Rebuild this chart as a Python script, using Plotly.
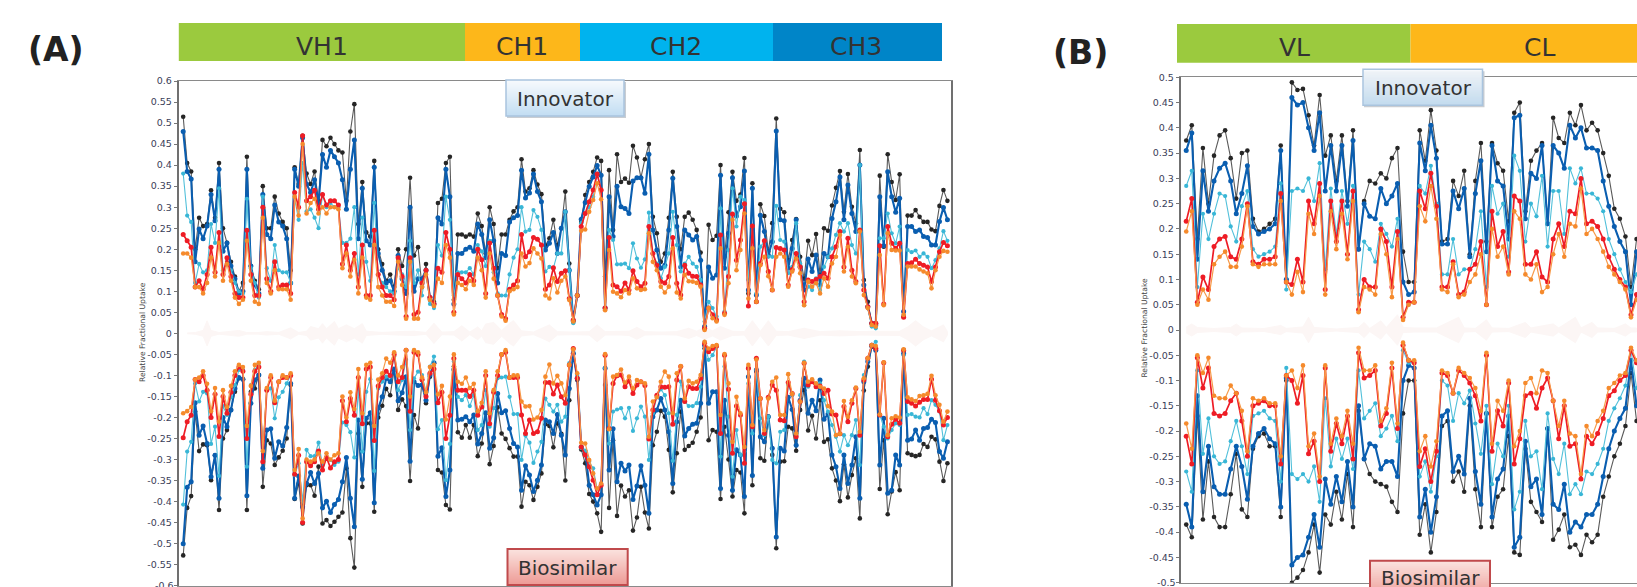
import plotly.graph_objects as go

W, H = 1637, 587

# ---------- data (percent of fractional uptake) ----------
A_top_black = [51.5,40.5,38.5,20,27.5,25.5,26,34,27.5,40.5,25,21.5,17,13.5,10,12,42,16,12.5,10.5,
35,25,25,32.5,28.5,26.5,25,15,39.5,35.5,47,38,35.5,38.5,31.5,46,44.5,46.5,45,43.5,
43,31.5,48,54.5,26,36,24,23,41,20,16.5,12.5,14,11,20,16,20,37,18.5,20.5,
11,16.5,8,7.5,31,32,40.5,42,8,23.5,23.5,23,23.5,23,28.5,25.5,19,30,26,15.5,
23.5,23.5,27,29,30,
41.4,33.7,34.5,38.8,35.4,33.1,20.9,22.6,27,21,25,33.7,16.6,2.8,9,26.5,32.9,36,38.4,41.8,
41,13.5,38.8,24.6,42.6,36,36.8,35.8,44.6,41.8,37,41.4,45,27.7,23.8,17,19,27.5,38.4,27.7,
20,27.7,28.7,27,24.6,19.2,1.2,25.8,22.2,23.2,40,18.2,28.8,38.4,31.5,33,41.7,9.5,35.7,7.5,
30.7,27.9,19.4,26.2,51.1,29.6,28.8,17.4,22.2,27.2,18.2,13,22,18.6,23.6,13.9,25,24.4,30.4,34.6,
38.6,28.9,37.9,30.1,26.2,43.6,12.7,7.5,2.4,2.4,37.5,20.6,42.6,36,31.7,37.8,4,28,28,29.3,
27.7,26.5,26.5,24.7,24.3,30.3,34.1,31.5]
A_top_blue = [48,38.5,36.7,17,24.8,22.5,25.5,33,26.8,39,19.5,21.5,16,13,9.5,10,39,16,11.5,9.5,
33,23.5,22.5,30.5,26.5,25.5,22.5,12,39,35,46.5,35.5,33.5,36.5,31,42.5,39.5,43.5,42,40.5,
36.5,29.5,39,46,22.5,34.5,22,21,39.5,19,15,12,12.5,10,18.5,13,9.5,30,10,13,
13,15,8.5,7,27.5,26,39,32.5,7,19,19,20,20.5,19.5,26,23.5,18,27,22,12,
19,18.5,26.5,27.5,28,
38.8,32.2,33.4,37.9,33.7,31.3,19.8,21.4,24,19,25,28.9,15,3,9,27.1,31.1,34.9,37.2,39.9,
37.6,6,32.5,23,35,30.1,29.7,28.5,36.2,37,37,33.3,42.6,24.6,19.8,15.5,16.2,24.6,36.9,25.4,
15.8,24.6,23.4,22.2,23,17.4,1.6,15.8,13.1,13.9,37.6,15.5,23.8,37,27.9,30.1,38.6,10.3,34.5,9.1,
28.1,24.2,18.6,21.8,48.1,27,26.8,15.5,20.2,27,15.8,10.3,17.7,14.7,18.6,11.5,19,18.2,27.3,31.3,
37.2,27,35.3,28.5,24.2,40,11.5,6.3,2.4,2,32.5,20.8,38.4,32.5,28.8,32.1,5.2,25.4,25.4,24.2,
24.6,23,22.8,21,21,26.6,29.9,27]
A_top_cyan = [38,28,26.5,12,16.5,14.5,15,26,21.5,34.5,15,17,15,12,10,9.5,32,15.5,12,8.5,
32.5,15.5,12.5,21,15,14.5,14.5,12,32,27,40.5,29,29.5,27.5,25,33,30,31,30,30,
21.5,21.5,22.5,30,14,27.5,17,12.5,31,14,12,11,10,9.5,15.5,14,11,22,12,15,
9,15,7,6,21,18.5,32.5,27,9,14.5,14.5,14.5,15.5,14,21,19.5,16,22,14.5,9.5,
9,9,14,18,20,
30,24.2,24.6,29.3,27.7,24.6,14.7,15.8,15.5,19,19,28.9,15,2.4,9,26.2,28.5,30,32.5,38,
34,6,24.6,22.2,16.4,16.4,16.6,15.5,21.4,17.8,15.6,17.6,28.7,19,16.6,13.1,15.8,19,28.9,21,
14.7,16.6,18.2,16.6,15.8,12.7,2.8,7.5,6,4,29.7,5.2,19.8,34.5,25.4,32.5,31.7,12.7,25.4,9.5,
20.6,21.8,18.2,18.2,30.3,22.2,21.8,14.3,15.8,26.2,16.6,6.7,11.1,10.3,13.1,10.3,15.8,18.2,20.2,23.4,
26.2,24.2,26.2,21,19,40,10.3,6,1.6,1.2,22.6,22.6,28.5,23.8,21.4,25.4,4.4,19.8,19.3,19.7,
18.2,19,18.2,15.5,17.4,20.2,24.3,22]
A_top_red = [23.5,22,20.5,11,12.5,10.5,14,20.5,14.5,24,14,18,13.5,9.5,8.5,8.5,24.5,14,9,9,
30,13,10,17,11,11.5,11.5,9.5,33.5,30,47,31.5,32.5,34,29.5,33,30.5,31.5,31.5,30.5,
16.5,21,15,19,11,21,9,9,24.5,14,11,9,9,8,18,13.5,4,18,4.5,5,
12,15,8.5,7,15.5,14.5,24,20,5,14,13,12,14,12.5,20,17.5,9.5,21.5,15.5,9,
4.5,3.5,10.5,11.5,12.5,
23.5,18.2,19.4,22.8,22.4,21,10.5,11.5,15.6,12.3,14.3,14.9,8.3,3.2,9,25.4,28.5,31.3,34.1,37.9,
34.1,6,22.8,11.5,11.1,10,12,10.3,14.9,12.3,11.1,11.9,25.4,19,16.2,12.3,12,13.5,22.8,11.9,
9.1,16.2,14.3,13.6,13.5,11.5,1.2,6,4.4,3.2,23.4,4.8,13.5,28.4,17.4,22.2,30.8,6.5,25.5,7.5,
16.6,22,14.7,10.3,20.4,20.2,19.8,11.5,15.2,19,15.8,7.5,12.7,12.3,12.8,13.5,14.3,13.1,18.2,20.6,
24.2,15.8,22.6,15,12.3,24.6,10.3,6.3,2.4,2.4,20.8,7,25.4,21.4,20.2,21.4,3.8,16.6,16.8,17.6,
16.6,16.2,15.8,12.3,15.8,19.4,21.6,20.8]
A_top_orange = [19,19,18,11,11,9.5,12,18,13.5,21.5,12.5,16.5,12.5,8.5,7,8,22,12.5,7.5,7,
27.5,12,9.5,15,10.5,10.5,10.5,8,32.5,28,45,28.5,31,32,28.5,30,28.5,30,30,29.5,
15.5,19,13.5,17.5,9.5,18,8.5,8,21,11,9,7.5,7.5,6.5,17,11.5,3.5,17,3.5,3.5,
11,14,8,6.5,13,12,21,18,4.5,12,11.5,10.5,12.5,11.5,18,15,8.5,19,13,9,
4,3,10,10.5,11,
19,15.9,16.7,20.2,19,17.8,9,8.3,13.1,9.7,12.5,13.5,7.9,2.8,9,24.4,24.7,28.9,31.7,35.7,
31.9,5.5,19.8,9.9,9.5,8.6,10.3,9.5,13.1,10.7,10.3,10.5,23.8,17,15,11.1,9.7,11.1,20.2,9.7,
8.3,13.9,12.4,12.3,12,11.1,0.8,6,3.6,2.8,20.2,4.4,11.9,27,15,19.8,28.5,8.3,20.2,7.5,
16.2,18.2,13.6,10.3,18.2,19,18.2,11.1,14.7,17.8,14.3,6.7,12.3,11.1,11.9,9.5,13.1,11.1,16.6,18.2,
23.4,14.7,20.6,13.5,11.9,24.2,9.1,6,2,1.6,18.6,6.7,23.8,19.8,19.7,19.7,4.4,15.9,15.9,15.9,
15.2,14.7,14.3,10.7,15,18.2,19.6,19.4]

A_bot_black = [52.8,41.5,38.7,18.6,28,26.4,26.6,34.9,29,42,25,23,18.2,13.9,10.7,10.9,42,13.9,13.1,9.9,
36.5,25.4,26.2,31.3,29.5,27.9,25,12.3,39.4,35.7,45.2,36.1,36.1,38.6,31.7,45.2,44.4,45.8,44.8,43.6,
42.6,32.1,48.7,55.7,23.8,36.5,21.4,21.4,42.4,20,17.2,13.2,14.7,8.7,18.2,15.7,17.3,35.1,19.4,22.6,
11.1,16.6,10.3,7.1,32.5,33.1,40.8,41.9,7.9,23.5,24.8,21.8,24.8,21.8,29.2,26.2,19,31.1,26.8,17.6,
23.8,25.1,27.3,29.3,29.3,
41.2,35.3,36.1,39.6,36.5,33.3,21.6,22,27.1,21.4,23.9,35,15.9,4.8,11.1,27.6,30.9,38.2,40,42.8,
47.2,12.3,41.5,25.4,43.4,36.2,38.8,37.3,46.9,43.8,36.5,42.6,46.4,26.6,23.4,18.4,19.8,27.7,37.8,28.5,
18.6,27.7,26.8,26,23.4,20,3.6,25.4,23,23.4,39.4,22.2,30,38.8,32.5,33.1,42.8,8.3,36.1,9.1,
29.7,30.3,19.8,28.9,51.1,30.5,30.4,22.2,22.6,27.9,18.2,13.5,23.1,19.6,25,15.9,25.8,25.2,32.1,35,
39.9,31.1,39,33.7,29.7,44,13.6,7.9,3.2,3.6,37,25.4,43,37.6,33,37.3,4,28.5,28.9,29.2,
28.9,26.3,27,24.6,25.2,30.5,35.1,30.9]
A_bot_blue = [50,36.6,35.3,16.5,24.2,22,26.2,34.1,29,39.2,20,22.2,18.2,13.1,10.5,10.9,38.6,16.6,11.1,9.9,
32.1,23,22.7,29.7,25.8,26.8,22.4,11.9,39.2,33.9,41.2,35.7,33.1,35.7,33.3,41.5,39.9,42.6,40.7,39.5,
35.3,29.5,39.2,46,20.6,34.7,20.2,18.9,40.3,17.8,15.1,10.7,11.5,8.5,16,14.1,10.3,30.4,11.5,12.4,
12.3,15.9,9.9,7,29.2,27.2,38.8,32.5,8.6,20.6,20.4,19.8,21,19.4,26.3,23.8,18.9,27.3,24.8,14.3,
18.9,18.4,22.6,26.2,27,
37.3,31.5,33.7,37.6,34.9,31.3,20.6,21,23.8,19.3,24.2,28.9,13.1,4.8,10.7,27,28.1,36.1,38.4,40.8,
38.4,8.3,32.5,22.7,35.3,30.9,32.7,31.3,39.5,36.3,31.5,36.1,42.8,19.8,18.2,15.5,18.2,23.4,35.7,21,
15.9,24.4,22.6,21.6,21.4,16.6,2.8,16.6,13.9,13.9,36.9,15.9,24.2,37.3,27.7,28.9,38.8,10.3,33.8,8.7,
24.6,25.8,19.8,27.3,48.4,27.3,28,15.2,18.1,26.6,15.9,10.7,19,15.9,18.4,11.1,20.4,19.2,28.9,31.7,
36.9,28.9,35.7,31.3,24.6,39.2,11.5,6.7,2.8,4,31.3,20.2,38,37.3,28.9,31.3,4.8,25.4,25.1,23,
25.4,22.6,22.4,20.4,21.2,28.1,29.7,25.8]
A_bot_cyan = [40.7,28.1,25.8,11.9,16.2,13.9,14.3,26.3,22.2,33.9,17.3,19.4,15.2,12.3,8.7,8.7,31.7,12.3,8.7,7.1,
28.1,13.5,13.1,20.2,15.2,13.9,11.9,9.9,33.7,30.9,40,27.7,29.2,29.2,26,31.3,29.3,30.1,31.3,30.5,
21.2,21.8,23.5,29.5,13.1,28.1,13.9,10.9,32.7,13.1,11.5,10.3,10.3,5.5,13.5,11.1,6.3,23,10.7,9.1,
9.9,13.9,7.9,5.5,22.8,20.6,34.9,26.3,6.7,15.1,15.9,14.7,17.3,14.7,23,21.8,13.5,22.2,17.8,10.7,
10.5,10.3,15.1,19.2,19.2,
30.1,24.3,26,30.8,28.1,25.8,15.5,17,18.6,17,21,19.8,7.1,4.4,9.9,27.3,27.9,30.5,32.1,36.9,
35.7,8.3,26.2,18.6,18.1,17.8,20.2,17.7,23.2,20.2,17.4,19.8,30.1,19,15.1,13.3,14.7,19,30.3,19.4,
11.5,16.2,17.3,17.3,16.6,12.7,2,6.3,5.2,3.2,29.3,7.9,19.8,34.1,23,28.9,28.1,11.9,23.8,8.7,
20.2,24.2,19.8,30.1,30.9,23.4,23,12.3,14.7,23.8,14.7,6.7,12.7,11.1,12.7,11.9,15.9,18.6,21.8,24.6,
28.1,24.2,26.6,24.2,20.6,31.3,9.9,6.3,2.8,2,19.4,22.2,25,23,21.4,21.8,5.2,19.4,19.2,19.8,
20,17.8,19.2,15.9,17,18.6,25.4,21.8]
A_bot_red = [24.8,21,19.5,11,11.5,10,13.5,20,14.5,24.5,15,19,14,10,8,9,25,14.5,9,8,
30.5,13.5,10.5,16.5,11.5,10.5,10.5,10,33.5,29,45,30.5,31.5,30.5,28,32.5,29.5,32,30.5,30,
16,21,15.5,19.5,10.5,21.5,8.5,8,25.5,12.5,10.5,9,10,5,11.5,10.5,4,18.5,4.5,5,
11,15,9.5,8.5,16.5,14,25,19.5,6,13.5,13.5,13.5,15,13.5,19.5,17.5,10,21.5,14,10,
5,4.5,10.5,10.5,10.5,
19.4,23.8,20.6,23.8,23.4,20.2,11.7,11.7,14.4,12.3,15.1,16.6,7.5,3.6,10.7,27,28.9,31.7,34.9,38.4,
36.1,5.2,22.6,11.9,10.1,9.9,12.7,11.3,14.3,12.3,11.5,12.4,25.1,18.2,14.7,12.7,12.8,12.7,21.6,11.1,
7.9,16.2,12.7,13.1,13.1,10.7,2.4,4.4,3.6,3,23.8,5.2,13.3,28.5,17.3,19.4,30.9,8.3,22.2,5.9,
15.5,23.8,15.2,12.3,13.5,20.6,20.8,11.7,14.3,24.6,16.2,7.1,12.3,11.5,12.7,12.5,14.3,13.5,19.2,19.4,
23.9,17.4,21,16.6,13.1,24.2,11.1,5.9,2.8,3.6,19.4,7,24.6,21.6,20.4,21.4,4,16.2,16.6,17.3,
16.4,15.7,15.7,10.9,15.9,18.4,21.8,20]
A_bot_orange = [19,18.5,17.5,11,10.5,9,12,18.5,13,21,13.5,17.5,12.5,9,7.5,8,22,12.5,7.5,7,
28,13,10,16,11.5,10,10.5,9.5,32.5,27.5,44,30,30.5,30,28.5,30.5,28.5,30,29,28.5,
15,20,14,18,8.5,19,7.5,7,22,11,9.5,6,7,4.5,10,8,4,15,4,4.5,
10.5,14,8,7.5,14.5,12.5,20.5,15,5,11.5,12,10.5,13,12,18.5,16.5,9,19,13.5,9,
5,4,10.5,10,10,
16.2,17.4,17.3,20.5,20,18.2,10.3,7.4,11.9,10.1,11.9,14.7,7.5,3.8,9.5,26,26.2,30.1,33.3,36.9,
35.7,4.9,22.8,10.3,9.9,8.6,11.7,10.3,13.1,11.1,11.5,11.9,24.6,16.2,15.2,11.5,9.1,10.3,19,9.5,
7.8,15.5,11.3,11.9,11.5,9.9,2,3.6,3,2.8,19.4,4.9,11.9,25.8,15.1,19,27,7.5,21.8,6.2,
15.5,23,15.5,11.5,10.5,19.4,19.4,9.7,14.4,23.8,16.2,7,11.5,10.9,11.9,12.7,13.1,17.3,18.6,24.2,
23.9,16.1,19.8,15.9,12.9,23.4,10.7,5.9,2.8,3,19.3,6.9,24.2,20.2,19.7,20,3.8,15.2,15.7,16.1,
14.9,14.7,14.4,10.1,14.7,17,21,18.6]

B_top_black = [37.5,40.5,18,36,25,34.5,38.5,39.5,34,26,35,35.5,22,19.5,20,21,22,36.5,10,49,
47.5,47.7,42.5,36.5,46.5,34.5,38.5,29.5,38.5,25.5,39.5,16,25.5,29.5,29,31,30,34,36,15.5,
9.5,9.5,39.5,33.5,43.5,35.5,17.5,18,29.5,26.5,31.5,15,29.5,37,17.5,37,33,31.5,21.5,43,
45,23.5,33.5,35.5,37,21,42,38,37,43,40.5,44.5,39.5,41,39.5,35,30.5,24,22,18.5,8.5,18]
B_top_blue = [35.5,39,14,31.5,23.5,29.5,32,33,29.5,23,27,32.5,20.5,19,19.5,20,21,35.5,10,46,
44.5,45,40,35.5,43,27.5,36.5,27.5,36.5,24.5,37.5,16,25,22.5,22,28,25,26.5,29,9.5,
7,7.5,37,31.5,40.5,34,17,17,27.5,24,28,14.5,27,33.5,15.5,36.5,29.5,28.5,18,42,
42.5,22,31,30,36.5,21,36.5,35,32,40.5,38,40,36,36,35.5,29.5,24.5,20.5,17.5,15.5,5,15.5]
B_top_cyan = [28.5,31.5,8.5,23,18,23,27,26.5,20.5,17.5,24.5,27.5,16,14.5,15,15.5,16.5,29,8,27.5,
28,27.5,30,25.5,33,12,28,19,27.5,21,28.5,7,17.5,16,13.5,21,19,16.5,22,2.5,
5,5.5,28.5,27,32.5,25,11,11,18,11,12,12,16,23.5,8.5,28.5,23,25,14.5,34.5,
31.5,17.5,25,22.5,30.5,16.5,27.5,27.5,19,32,29,32,27,27,26,23.5,18,15,12,9.5,7.5,11]
B_top_red = [21.5,26,5.5,10.5,8,16.5,18,18.5,14.5,14,18,25,13.5,13,14,14,14.5,27,9.5,9,
14,9.5,25.5,21,29,8,25.5,17.5,25.5,15,27.5,4,10,8.5,8.5,20,17.5,8.5,19.5,2.5,
5.5,5.5,27.5,24,31,24.5,8.5,8.5,13.5,7,7.5,12,13,17.5,5,23.5,16.5,19.5,11.5,26.5,
25.5,13,13,15.5,10.5,9.5,18,21,16.5,23.5,23,30,21,21.5,20.5,18,14.5,12,10,8.5,3,7]
B_top_orange = [19.5,23.5,5,8,6,13,14.5,15.5,12.5,12.5,16.5,24.5,13,12.5,13,13,13,25.5,9.5,7,
11.5,7.5,23,19,26.5,7,23.5,16,23,14,25.5,3.5,8.5,8,7,19,15,6.5,18,2,
5,5.5,24.5,21.5,28.5,22,8,7.5,13,6.5,7,9.5,11,15,5,20,14.5,16.5,11,23.5,
22,11,10,13,7.5,8.5,15,19,14.5,21,20.5,28,19,20,18,15.5,12.5,11,9.5,8,2.5,6]

B_bot_black = [38.5,41,17,37.5,26,37,39,39,32.5,24.5,35.5,37,23.5,21,20.5,23,23,37,10,50,
49,47.5,44,38.5,48,36.5,38.5,32,37.5,28.5,39,16,25.5,28.5,30,30.5,31,34,36,16.5,
10,10,40.5,34.5,44,36,19,18,30,28,32,15,31.5,39,16.5,39,33,31.5,21,44,
44.5,23.5,34,36,38,19.5,41.5,39.5,36.5,43,42.5,44.5,40.5,42,40.5,33,29,25,22.5,19,8.5,18]
B_bot_blue = [34.5,39,13,32,23,31,32.5,32.5,27.5,23,27,33.5,23,20.5,19.5,21.5,22.5,35,9.5,46.5,
45,44.5,41,36.5,43,29.5,34.5,29,34,26,35,15,25.5,22.5,23,27.5,26,26,29,10,
7,7.5,37,31.5,40,33,17,16,28,25,28.5,13.5,28,34.5,16.5,37,29.5,27.5,17,43,
41,22,31,29.5,36.5,19.5,34.5,35.5,30.5,40,38,39,36.5,36.5,34.5,29,23.5,20,17.5,15.5,6,15]
B_bot_cyan = [28,32,8,24.5,17.5,25,26.5,26,22,18,23,28.5,17,16.5,16,17.5,18,30,7.5,28.5,
29.5,28.5,30,27,34,13.5,27,21.5,25.5,21.5,27.5,8,17.5,16,14.5,21,19.5,17,22,4,
6.5,6.5,29,26,32,25,10,11,18,12.5,14.5,12,18.5,24.5,15,30.5,22.5,25,15,35.5,
32,18,25,24,31.5,16.5,25.5,28.5,22.5,32.5,30.5,32.5,28,28.5,26.5,23.5,18,15.5,13.5,11,4,11.5]
B_bot_red = [21,26.5,5.5,11.5,7.5,16.5,17,16.5,14,12.5,18,25,15,14.5,14,15,15,26.5,9,10,
14.5,9,24.5,22,30,7.5,24,18.5,22.5,17,25.5,4.5,9.5,9,8,19,16.5,7.5,19.5,3,
6,6.5,27,23.5,30,24,8.5,9,12.5,8,9,10.5,13,18,5,24,16,19,10.5,26.5,
21.5,13,12.5,15.5,11.5,9.5,14,21.5,15,23,22.5,29.5,21,22.5,20.5,17.5,13,12,10,9,4,6.5]
B_bot_orange = [18.5,23.5,5,8.5,5.5,13,13.5,13.5,11,12.5,16,24,13.5,14,13.5,14.5,14.5,25,9,8,
11.5,7,23,20.5,29,7,22.5,17.5,21,16,22.5,3.5,8,8,7,18,15.5,6.5,18.5,2.5,
6,6,24,21,27,22,8,8.5,12.5,7.5,8.5,9.5,11.5,16,4.5,22.5,14,16,10,23,
20,10.5,9.5,12.5,8,8.5,14,19,14,20.5,21,28.5,19,21,18,16,11.5,10.5,9,8.5,3.5,6]

A_band_x = [1,3,5,6,7,9,12,14,16,19,21,24,27,29,31,32,34,35,36,37,38,39,41,43,45,46,50,54,58,61,63,65,68,70,72,74,75,76,78,80,82,83,85,88,91,92,94,98,102,104,106,110,112,114,116,120,124,127,129,131,133,135,138,141,143,145,147,149,152,156,160,165,170,175,180,182,184,186,188,191,192]
A_band_h = [.1,.2,.7,3,.7,.2,.5,.7,.2,.2,.4,.2,1.3,.2,.5,1.6,1.1,2.3,1.1,2,2.8,1.1,2,1.1,2.3,.5,.2,.4,.5,.2,2.4,.3,.4,1.8,.3,1.5,.6,2.2,2.6,.7,2.4,3,.6,.3,1.5,2,.4,.3,.4,2,.4,.4,.5,1.4,.4,.3,.4,1.2,.5,1.4,.6,1.6,.5,.4,3,.5,3,.5,.4,1.2,.4,.6,.4,.5,.5,1.5,3,1.5,.6,2,.4]
B_band_x = [0,1,2,5,8,9,10,14,17,18,21,22,23,27,31,32,33,35,36,38,39,41,45,49,50,52,54,55,58,61,62,66,67,70,71,73,74,77,79,80,81]
B_band_h = [.6,1.2,.5,.3,.5,1.2,.4,.3,.9,.3,.6,2.5,.5,.2,.5,1.5,.3,1.8,.5,3,.5,.4,.4,2.5,.4,.3,2,.4,.3,1.5,.4,1.2,.4,2.5,.4,1.5,.4,.3,1.2,.4,.4]

A_ticks = [0.6,0.55,0.5,0.45,0.4,0.35,0.3,0.25,0.2,0.15,0.1,0.05,0,-0.05,-0.1,-0.15,-0.2,-0.25,-0.3,-0.35,-0.4,-0.45,-0.5,-0.55,-0.6]
A_tick_text = ["0.6","0.55","0.5","0.45","0.4","0.35","0.3","0.25","0.2","0.15","0.1","0.05","0","-0.05","-0.1","-0.15","-0.2","-0.25","-0.3","-0.35","-0.4","-0.45","-0.5","-0.55",""]
B_ticks = A_ticks[2:-2]
B_tick_text = A_tick_text[2:-3] + [""]
A_last_tick, B_last_tick = "-0.6", "-0.5"

A_regions = ["VH1", "CH1", "CH2", "CH3"]
B_regions = ["VL", "CL"]
INNOVATOR, BIOSIMILAR = "Innovator", "Biosimilar"
Y_TITLE = "Relative Fractional Uptake"

lengths = {n: len(v) for n, v in dict(at0=A_top_black, at1=A_top_blue, at2=A_top_cyan, at3=A_top_red, at4=A_top_orange,
    ab0=A_bot_black, ab1=A_bot_blue, ab2=A_bot_cyan, ab3=A_bot_red, ab4=A_bot_orange,
    bt0=B_top_black, bt1=B_top_blue, bt2=B_top_cyan, bt3=B_top_red, bt4=B_top_orange,
    bb0=B_bot_black, bb1=B_bot_blue, bb2=B_bot_cyan, bb3=B_bot_red, bb4=B_bot_orange,
    ax=A_band_x, ah=A_band_h, bx=B_band_x, bh=B_band_h).items()}
assert all(lengths[k] == 193 for k in lengths if k.startswith("a") and k not in ("ax", "ah")), lengths
assert all(lengths[k] == 82 for k in lengths if k.startswith("b") and k not in ("bx", "bh")), lengths
assert lengths["ax"] == lengths["ah"] and lengths["bx"] == lengths["bh"], lengths

# ---------- styles ----------
STYLES = [
    dict(name="black", line="#5a5a5a", marker="#262626", lw=1.1, ms=4.6),
    dict(name="blue", line="#0a5eb0", marker="#0a5eb0", lw=2.1, ms=5),
    dict(name="cyan", line="#52c0da", marker="#38b6d6", lw=1.1, ms=4.2),
    dict(name="red", line="#ee1c25", marker="#ee1c25", lw=1.7, ms=5),
    dict(name="orange", line="#f79a4a", marker="#f58a2c", lw=1.2, ms=4.6),
]
BAND = "#fcf6f5"
TICK_FONT = dict(family="DejaVu Sans", size=9.5, color="#3a4058")

fig = go.Figure()

def band(xs, hs, xa, ya):
    fig.add_trace(go.Scatter(
        x=list(xs) + list(xs)[::-1],
        y=[h / 100 for h in hs] + [-h / 100 for h in hs][::-1],
        mode="lines", fill="toself", fillcolor=BAND, line=dict(color=BAND, width=1),
        hoverinfo="skip", showlegend=False, xaxis=xa, yaxis=ya))

def series(values, sign, st, xa, ya):
    fig.add_trace(go.Scatter(
        x=list(range(len(values))), y=[sign * v / 100 for v in values],
        mode="lines+markers", name=st["name"], showlegend=False,
        line=dict(color=st["line"], width=st["lw"]),
        marker=dict(color=st["marker"], size=st["ms"]),
        xaxis=xa, yaxis=ya))

band(A_band_x, A_band_h, "x", "y")
band(B_band_x, B_band_h, "x2", "y2")
for sets, xa, ya in (
    ([(A_top_black, A_bot_black), (A_top_blue, A_bot_blue), (A_top_cyan, A_bot_cyan), (A_top_red, A_bot_red), (A_top_orange, A_bot_orange)], "x", "y"),
    ([(B_top_black, B_bot_black), (B_top_blue, B_bot_blue), (B_top_cyan, B_bot_cyan), (B_top_red, B_bot_red), (B_top_orange, B_bot_orange)], "x2", "y2"),
):
    for (top, bot), st in zip(sets, STYLES):
        series(top, 1, st, xa, ya)
        series(bot, -1, st, xa, ya)

def px(x): return x / W
def py(y): return 1 - y / H

def yaxis_style(ticks, text, dom_top, dom_bot, rng):
    return dict(domain=[py(dom_bot), py(dom_top)], range=rng, tickmode="array", tickvals=ticks, ticktext=text,
                ticks="outside", ticklen=3, tickcolor="#777", tickwidth=1, tickfont=TICK_FONT,
                showgrid=False, zeroline=False, showline=True, linecolor="#707070", linewidth=1.6, mirror=True)

def xaxis_style(left, right, rng):
    return dict(domain=[px(left), min(px(right), 1)], range=rng, showticklabels=False, ticks="",
                showgrid=False, zeroline=False, showline=True, linecolor="#8a8a8a", linewidth=1.4, mirror=True)

fig.update_layout(
    width=W, height=H, autosize=False, margin=dict(l=0, r=0, t=0, b=0, pad=0, autoexpand=False),
    paper_bgcolor="white", plot_bgcolor="white",
    xaxis=xaxis_style(178.5, 951, [-1.18, 192.9]),
    yaxis=yaxis_style(A_ticks, A_tick_text, 81, 585.7, [-0.6, 0.6]),
    xaxis2=xaxis_style(1180.5, 1637, [-1.03, 81.08]),
    yaxis2=yaxis_style(B_ticks, B_tick_text, 77.3, 582.7, [-0.5, 0.5]),
)
fig.layout.xaxis.anchor = "y"
fig.layout.yaxis.anchor = "x"
fig.layout.xaxis2.anchor = "y2"
fig.layout.yaxis2.anchor = "x2"

shapes, notes = [], []

def rect(x0, y0, x1, y1, fill, line=None, lw=0):
    shapes.append(dict(type="rect", xref="paper", yref="paper", layer="above",
                       x0=px(x0), x1=px(x1), y0=py(y0), y1=py(y1), fillcolor=fill,
                       line=dict(color=line or fill, width=lw)))

def text(x, y, s, size, color="#333333", bold=False, angle=0, family="DejaVu Sans"):
    notes.append(dict(xref="paper", yref="paper", x=px(x), y=py(y), text=f"<b>{s}</b>" if bold else s,
                      showarrow=False, textangle=angle, xanchor="center", yanchor="middle",
                      font=dict(family=family, size=size, color=color)))

def tick_note(x, y, s):
    notes.append(dict(xref="paper", yref="paper", x=px(x), y=py(y), text=s, showarrow=False,
                      xanchor="right", yanchor="middle", borderpad=0, borderwidth=0, font=TICK_FONT))

# region bars
A_edges = [178.8, 465, 580, 773, 942]
A_colors = ["#9bca3e", "#fdb71a", "#00b3ee", "#0085c8"]
for i, lab in enumerate(A_regions):
    rect(A_edges[i], 23, A_edges[i + 1], 61, A_colors[i])
    text((A_edges[i] + A_edges[i + 1]) / 2 - (1 if i else 0), 46, lab, 25)
B_edges = [1177, 1410.5, 1637]
for i, lab in enumerate(B_regions):
    rect(B_edges[i], 24, B_edges[i + 1], 62.7, A_colors[i])
text(1294, 48, B_regions[0], 25)
text(1539, 48, B_regions[1], 25)

def hex2rgb(h): return [int(h[i:i + 2], 16) for i in (1, 3, 5)]

def gradient_box(x0, y0, x1, y1, c0, c1, border, lw, shadow=None):
    if shadow:
        rect(x0 + 1, y0 + 2, x1 + 2, y1 + 2, shadow)
    n = int(round(y1 - y0))
    a, b = hex2rgb(c0), hex2rgb(c1)
    for k in range(n):
        t = k / max(n - 1, 1)
        c = "rgb(%d,%d,%d)" % tuple(a[j] + (b[j] - a[j]) * t for j in range(3))
        rect(x0, y0 + k, x1, y0 + k + 1.2, c)
    shapes.append(dict(type="rect", xref="paper", yref="paper", layer="above", x0=px(x0), x1=px(x1),
                       y0=py(y0), y1=py(y1), fillcolor="rgba(0,0,0,0)", line=dict(color=border, width=lw)))

INN = ("#f7fafd", "#c3def3", "#a9c4de", 1.5, "#c9cdd2")
BIO = ("#fbe3df", "#ee9b96", "#c04a4c", 2, None)
gradient_box(506, 80, 624, 116, *INN)
gradient_box(507.5, 549, 627.7, 585, *BIO)
gradient_box(1363, 69.3, 1482.5, 105.3, *INN)
gradient_box(1370, 560.7, 1490, 600, *BIO)
text(565, 99, INNOVATOR, 20)
text(567.6, 568, BIOSIMILAR, 20)
text(1423, 88, INNOVATOR, 20)
text(1430, 578, BIOSIMILAR, 20)

# panel letters, axis titles and the two lowest tick labels, which sit on the page edge
text(56, 50, "(A)", 33, color="#222222", bold=True)
text(1080, 53, "(B)", 33, color="#222222", bold=True)
text(142, 332, Y_TITLE, 7.6, color="#444444", angle=-90)
text(1143.6, 328, Y_TITLE, 7.6, color="#444444", angle=-90)
tick_note(174, 585, A_last_tick)
tick_note(1176, 582, B_last_tick)

fig.update_layout(shapes=shapes, annotations=notes)
fig.write_html("out.html", config=dict(displayModeBar=False),
               post_script="document.body.style.margin='0';document.body.style.overflow='hidden';")
